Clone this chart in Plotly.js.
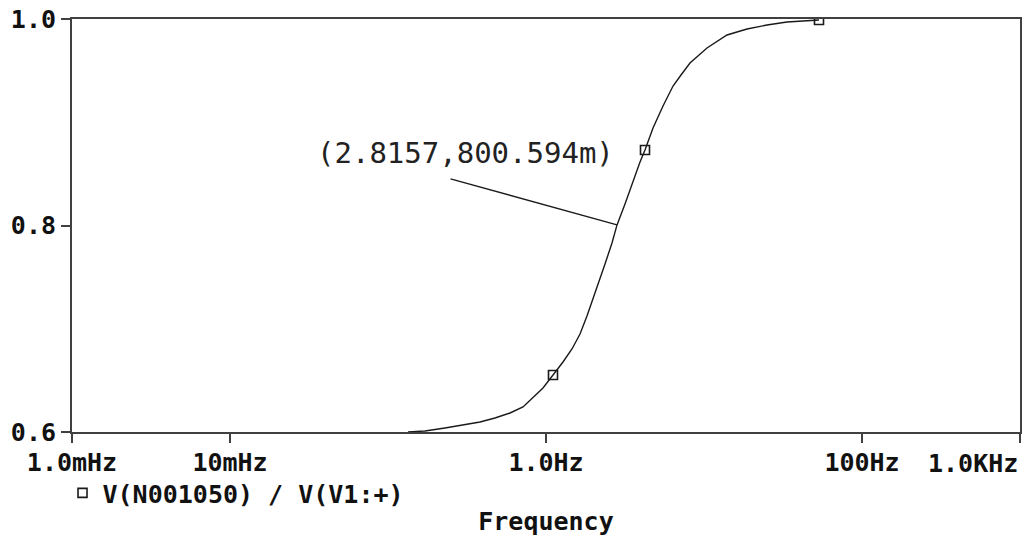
<!DOCTYPE html>
<html>
<head>
<meta charset="utf-8">
<script src="https://cdn.plot.ly/plotly-3.0.1.min.js"></script>
<style>html,body{margin:0;padding:0;background:#fff;}#chart{width:1025px;height:537px;}</style>
</head>
<body>
<div id="chart"></div>
<script>
// Frequency sweep (Hz) and transfer ratio
const freqHz = [0.13384, 0.17147, 0.22947, 0.29836, 0.38228, 0.47559, 0.59183, 0.71521, 0.79206, 0.95725,
  1.1074, 1.2811, 1.4605, 1.6415, 1.8174, 1.9838, 2.1967, 2.3626, 2.6160, 2.8157, 3.1623, 3.5020,
  3.9355, 4.2322, 4.7561, 5.5032, 6.3676, 7.1523, 8.1550, 10.447, 13.983, 18.715, 25.039, 33.512, 53.441];
const ratio = [0.6000, 0.60097, 0.60387, 0.60678, 0.60969, 0.61356, 0.61840, 0.62421, 0.63099, 0.64262,
  0.65521, 0.66780, 0.68039, 0.69491, 0.71235, 0.72881, 0.74818, 0.76271, 0.78305, 0.800594, 0.82082, 0.84019,
  0.86150, 0.87312, 0.89443, 0.91574, 0.93511, 0.94577, 0.95738, 0.97191, 0.98450, 0.99031, 0.99419, 0.99709, 0.99903];
// marker symbols placed on the trace
const markerFreq = [1.1074, 4.2322, 53.441];
const markerRatio = [0.65521, 0.87312, 0.99903];
// cursor readout
const cursorFreq = 2.8157;
const cursorRatio = 0.800594;
const cursorLabel = "(2.8157,800.594m)";
// axis ticks
const xTickVals = [0.001, 0.01, 1, 100, 1000];
const xTickText = ["1.0mHz", "10mHz", "1.0Hz", "100Hz", ""];
const xLastLabel = "1.0KHz";
const yTickVals = [0.6, 0.8, 1.0];
const yTickText = ["0.6", "0.8", "1.0"];
const seriesName = "V(N001050) / V(V1:+)";

const boldFont = {family: "DejaVu Sans Mono", size: 25, color: "#111", weight: "bold"};
const axColor = "#404040";

const traces = [
  {x: freqHz, y: ratio, type: "scatter", mode: "lines", line: {color: "#1a1a1a", width: 1.4},
   showlegend: false, hoverinfo: "skip"},
  {x: markerFreq, y: markerRatio, type: "scatter", mode: "markers", name: seriesName,
   marker: {symbol: "square-open", size: 9, color: "#1a1a1a", line: {width: 1.6, color: "#1a1a1a"}},
   showlegend: true}
];

const layout = {
  width: 1025, height: 537,
  margin: {l: 72, r: 5, t: 19, b: 105},
  paper_bgcolor: "#fff", plot_bgcolor: "#fff",
  font: boldFont,
  xaxis: {
    type: "log", range: [-3, 3], tickmode: "array", tickvals: xTickVals, ticktext: xTickText,
    showgrid: false, zeroline: false, showline: true, mirror: true, linecolor: axColor, linewidth: 2,
    ticks: "outside", ticklen: 9, tickwidth: 2, tickcolor: axColor, tickfont: boldFont,
    ticklabelstandoff: -2,
    title: {text: "Frequency", font: boldFont, standoff: 36}, automargin: false
  },
  yaxis: {
    range: [0.6, 1.0], tickmode: "array", tickvals: yTickVals, ticktext: yTickText,
    showgrid: false, zeroline: false, showline: true, mirror: true, linecolor: axColor, linewidth: 2,
    ticks: "outside", ticklen: 9, tickwidth: 2, tickcolor: axColor, tickfont: boldFont, automargin: false
  },
  showlegend: true,
  legend: {x: -0.010, xanchor: "left", y: -0.148, yanchor: "middle", font: boldFont,
           bgcolor: "rgba(0,0,0,0)", borderwidth: 0, itemclick: false},
  annotations: [
    {x: Math.log10(1000), y: 0, xref: "x", yref: "paper", xanchor: "right", yanchor: "top",
     text: xLastLabel, showarrow: false, font: boldFont, yshift: -15},
    {x: Math.log10(cursorFreq), y: cursorRatio, xref: "x", yref: "y", text: " ", showarrow: true,
     arrowhead: 0, arrowwidth: 1.4, arrowcolor: "#1a1a1a", ax: -170, ay: -47, standoff: 0, startstandoff: 0,
     font: {family: "DejaVu Sans Mono", size: 6}},
    {x: Math.log10(cursorFreq), y: cursorRatio, xref: "x", yref: "y", text: cursorLabel, showarrow: false,
     xanchor: "center", yanchor: "middle", xshift: -152, yshift: 72,
     font: {family: "DejaVu Sans Mono", size: 29, color: "#222", weight: "normal"}}
  ]
};

Plotly.newPlot("chart", traces, layout, {staticPlot: true, displayModeBar: false});
</script>
</body>
</html>
